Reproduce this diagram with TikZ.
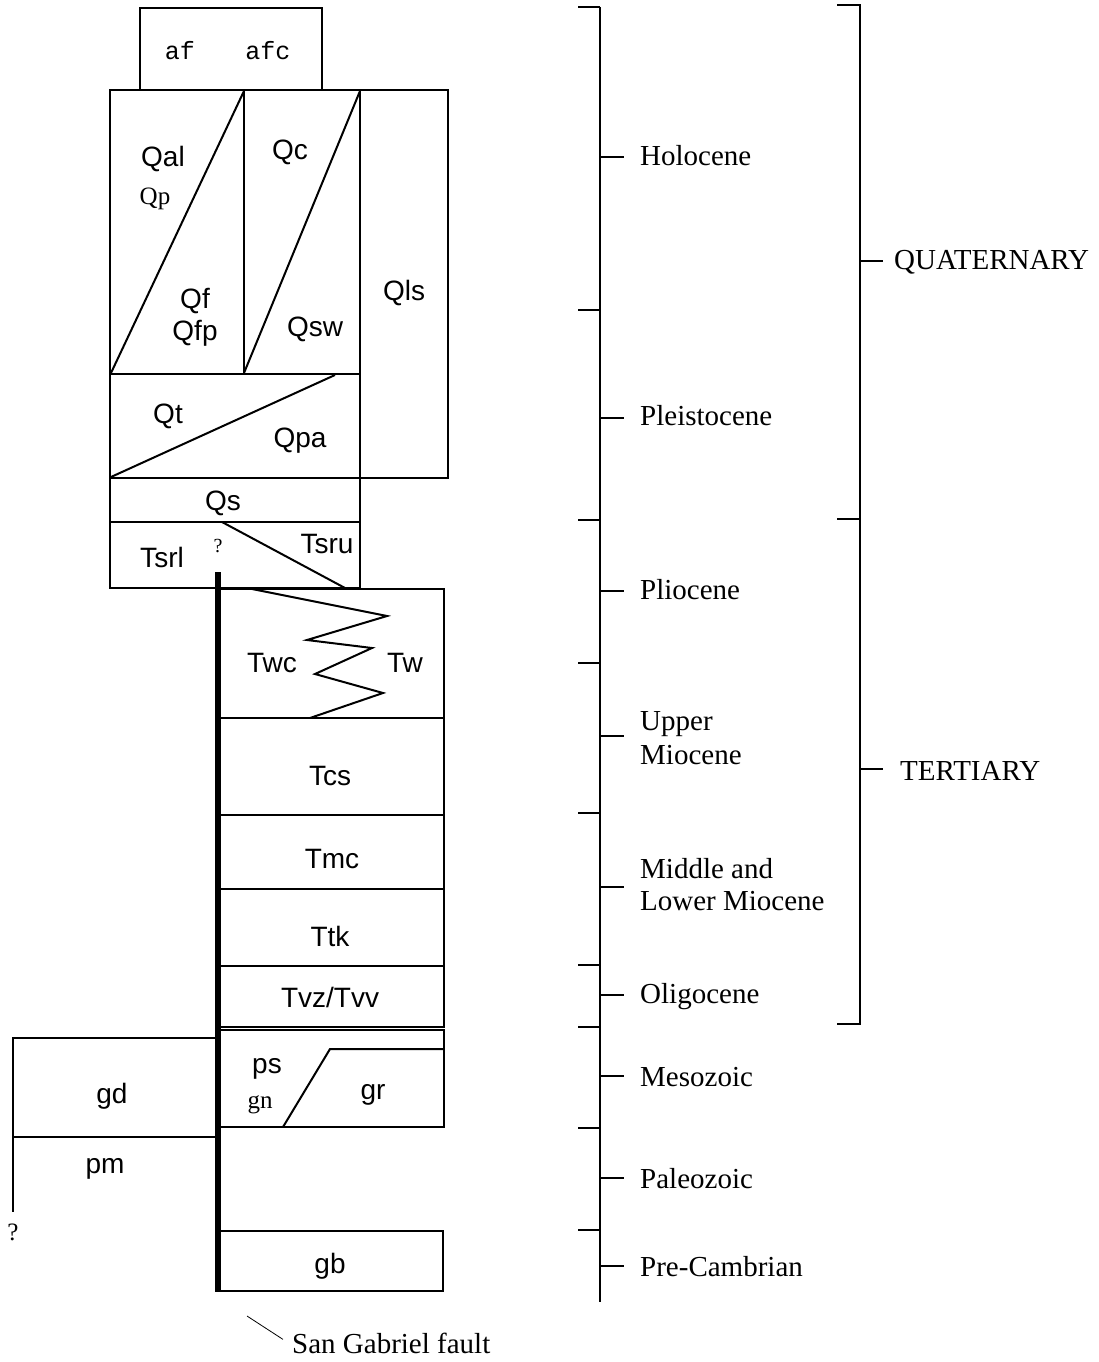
\documentclass[tikz,border=0pt]{standalone}
\usepackage{fontspec}
\setmainfont{Liberation Serif}
\newfontfamily\unitsans{Liberation Sans}
\newfontfamily\unitmono{Liberation Mono}
\begin{document}
\begin{tikzpicture}[x=1pt,y=-1pt,
  box/.style={line width=2pt},
  bar/.style={line width=2.2pt},
  fault/.style={line width=5.5pt},
  leader/.style={line width=0.8pt},
  unit/.style={font=\unitsans\fontsize{28}{30}\selectfont,anchor=base,inner sep=0pt},
  unitser/.style={font=\fontsize{25}{27}\selectfont,anchor=base,inner sep=0pt},
  mono/.style={font=\unitmono\fontsize{25}{27}\selectfont,anchor=base,inner sep=0pt},
  epoch/.style={font=\fontsize{29}{31}\selectfont,anchor=base west,inner sep=0pt},
  qmark/.style={font=\fontsize{20}{22}\selectfont,anchor=base,inner sep=0pt}]
\useasboundingbox (0,0) rectangle (1098,1362);

% ---- Quaternary units ----
\draw[box] (140,90) rectangle (322,8);
\node[mono] (af) at (180,60) {af};
\node[mono] (afc) at (268,60) {afc};

\draw[box] (110,90) rectangle (360,374);
\draw[box] (244,90) -- (244,374);
\draw[box] (111,373) -- (244,91);
\draw[box] (244,373) -- (360,91);
\draw[box] (360,90) rectangle (448,478);
\draw[box] (110,374) rectangle (360,478);
\draw[box] (111,477) -- (335,375);
\draw[box] (110,478) rectangle (360,522);
\draw[box] (110,522) rectangle (360,588);
\draw[box] (222,522) -- (345,588);

\node[unit] (qal) at (163,166) {Qal};
\node[unitser] (qp) at (155,204) {Qp};
\node[unit] (qf) at (195,308) {Qf};
\node[unit] (qfp) at (195,340) {Qfp};
\node[unit] (qc) at (290,160) {Qc};
\node[unit] (qsw) at (315,336) {Qsw};
\node[unit] (qls) at (404,300) {Qls};
\node[unit] (qt) at (168,423) {Qt};
\node[unit] (qpa) at (300,447) {Qpa};
\node[unit] (qs) at (223,510) {Qs};
\node[unit] (tsrl) at (162,567) {Tsrl};
\node[qmark] (q1) at (218,552) {?};
\node[unit] (tsru) at (327,553) {Tsru};

% ---- Tertiary units east of the fault ----
\draw[box] (218,589) rectangle (444,718);
\draw[box] (252,589) -- (387,616) -- (307,640) -- (372,648) -- (315,674) -- (383,693) -- (310,718);
\node[unit] (twc) at (272,672) {Twc};
\node[unit] (tw) at (405,672) {Tw};
\draw[box] (218,718) rectangle (444,815);
\node[unit] (tcs) at (330,785) {Tcs};
\draw[box] (218,815) rectangle (444,889);
\node[unit] (tmc) at (332,868) {Tmc};
\draw[box] (218,889) rectangle (444,966);
\node[unit] (ttk) at (330,946) {Ttk};
\draw[box] (218,966) rectangle (444,1027);
\node[unit] (tvz) at (330,1007) {Tvz/Tvv};

% ---- Basement east of the fault ----
\draw[box] (218,1030) -- (444,1030) -- (444,1127) -- (218,1127);
\draw[box] (444,1049) -- (330,1049) -- (283,1127);
\node[unit] (ps) at (267,1073) {ps};
\node[unitser] (gn) at (260,1108) {gn};
\node[unit] (gr) at (373,1099) {gr};
\draw[box] (218,1231) rectangle (443,1291);
\node[unit] (gb) at (330,1273) {gb};

% ---- Basement west of the fault ----
\draw[box] (217,1038) -- (13,1038) -- (13,1212);
\draw[box] (13,1137) -- (217,1137);
\node[unit] (gd) at (112,1103) {gd};
\node[unit] (pm) at (105,1173) {pm};
\node[qmark,font=\fontsize{25}{27}\selectfont] (q2) at (13,1240) {?};

% ---- San Gabriel fault ----
\draw[fault] (218,572) -- (218,1292);
\node[epoch] (sgf) at (292,1353) {San Gabriel fault};
\coordinate (ldA) at (247,1316);
\draw[leader] (ldA) -- ([xshift=-9pt,yshift=-7pt]sgf.north west);

% ---- Epoch scale ----
\draw[bar] (600,7) -- (600,1302);
\foreach \yy in {7,310,520,663,813,965,1027,1128,1230}
  \draw[bar] (578,\yy) -- (600,\yy);
\foreach \yy in {157,418,591,736,887,995,1076,1178,1266}
  \draw[bar] (600,\yy) -- (624,\yy);
\node[epoch] (hol) at (640,165) {Holocene};
\node[epoch] (ple) at (640,425) {Pleistocene};
\node[epoch] (pli) at (640,599) {Pliocene};
\node[epoch] (upp) at (640,730) {Upper};
\node[epoch] (umi) at (640,764) {Miocene};
\node[epoch] (mid) at (640,878) {Middle and};
\node[epoch] (lmi) at (640,910) {Lower Miocene};
\node[epoch] (oli) at (640,1003) {Oligocene};
\node[epoch] (mes) at (640,1086) {Mesozoic};
\node[epoch] (pal) at (640,1188) {Paleozoic};
\node[epoch] (pre) at (640,1276) {Pre-Cambrian};

% ---- Period scale ----
\draw[bar] (837,5) -- (860,5) -- (860,1024) -- (837,1024);
\draw[bar] (837,519) -- (860,519);
\draw[bar] (860,261) -- (883,261);
\draw[bar] (860,769) -- (883,769);
\node[epoch] (qua) at (894,269) {QUATERNARY};
\node[epoch] (ter) at (900,780) {TERTIARY};
\end{tikzpicture}
\end{document}
